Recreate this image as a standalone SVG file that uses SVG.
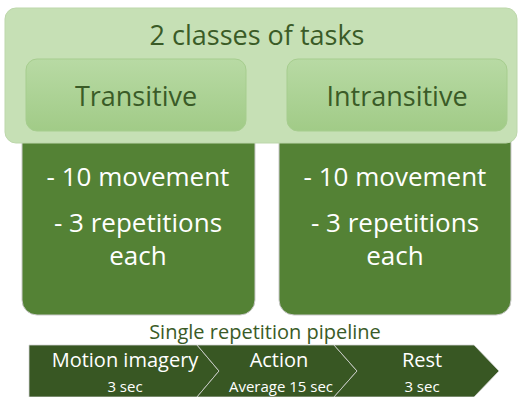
<svg xmlns="http://www.w3.org/2000/svg" width="521" height="397" viewBox="0 0 521 397">
<defs>
<linearGradient id="gIn" x1="0" y1="0" x2="0" y2="1">
<stop offset="0" stop-color="#B8DAA4"/>
<stop offset="1" stop-color="#A1CB87"/>
</linearGradient>
<style>
text{font-family:"Open Sans","Noto Sans",sans-serif;text-anchor:middle}
.dk{fill:#548235;stroke:#C9C9C9;stroke-width:1}
.lt{fill:#C6E0B5;stroke:#BDD7AB;stroke-width:1}
.in{fill:url(#gIn);stroke:#A6CD8E;stroke-width:1}
.t1{fill:#3A5B27}
.w{fill:#FFFFFF}
.seg{fill:#385723;stroke:#D6D6D6;stroke-width:0.8}
</style>
</defs>
<g id="transitive-detail">
<path class="dk" d="M22,125 H255 V300 A15,15 0 0 1 240,315 H37 A15,15 0 0 1 22,300 Z"/>
<text class="w" x="138" y="186" font-size="26">- 10 movement</text>
<text class="w" x="138" y="232" font-size="26">- 3 repetitions</text>
<text class="w" x="138" y="265" font-size="26">each</text>
</g>
<g id="intransitive-detail">
<path class="dk" d="M279,125 H511 V300 A15,15 0 0 1 496,315 H294 A15,15 0 0 1 279,300 Z"/>
<text class="w" x="395" y="186" font-size="26">- 10 movement</text>
<text class="w" x="395" y="232" font-size="26">- 3 repetitions</text>
<text class="w" x="395" y="265" font-size="26">each</text>
</g>
<g id="classes">
<rect class="lt" x="5" y="8" width="512" height="135" rx="11"/>
<text class="t1" x="257" y="45" font-size="27">2 classes of tasks</text>
</g>
<g id="transitive">
<rect class="in" x="26" y="59" width="220" height="72" rx="11"/>
<text class="t1" x="136" y="106" font-size="27">Transitive</text>
</g>
<g id="intransitive">
<rect class="in" x="287" y="59" width="220" height="72" rx="11"/>
<text class="t1" x="397" y="106" font-size="27">Intransitive</text>
</g>
<g id="pipeline-title">
<text class="t1" x="265" y="339" font-size="20">Single repetition pipeline</text>
</g>
<g id="connectors"></g>
<g id="motion-imagery">
<path class="seg" d="M29,345 H197 L219,371 L197,397 H29 Z"/>
<text class="w" x="125" y="367" font-size="20">Motion imagery</text>
<text class="w" x="125" y="392" font-size="15">3 sec</text>
</g>
<g id="action">
<path class="seg" d="M197,345 H334 L357,371 L334,397 H197 L219,371 Z"/>
<text class="w" x="279" y="367" font-size="20">Action</text>
<text class="w" x="281" y="392" font-size="15">Average 15 sec</text>
</g>
<g id="rest">
<path class="seg" d="M334,345 H474 L499,371 L474,397 H334 L357,371 Z"/>
<text class="w" x="422" y="367" font-size="20">Rest</text>
<text class="w" x="422" y="392" font-size="15">3 sec</text>
</g>
</svg>
